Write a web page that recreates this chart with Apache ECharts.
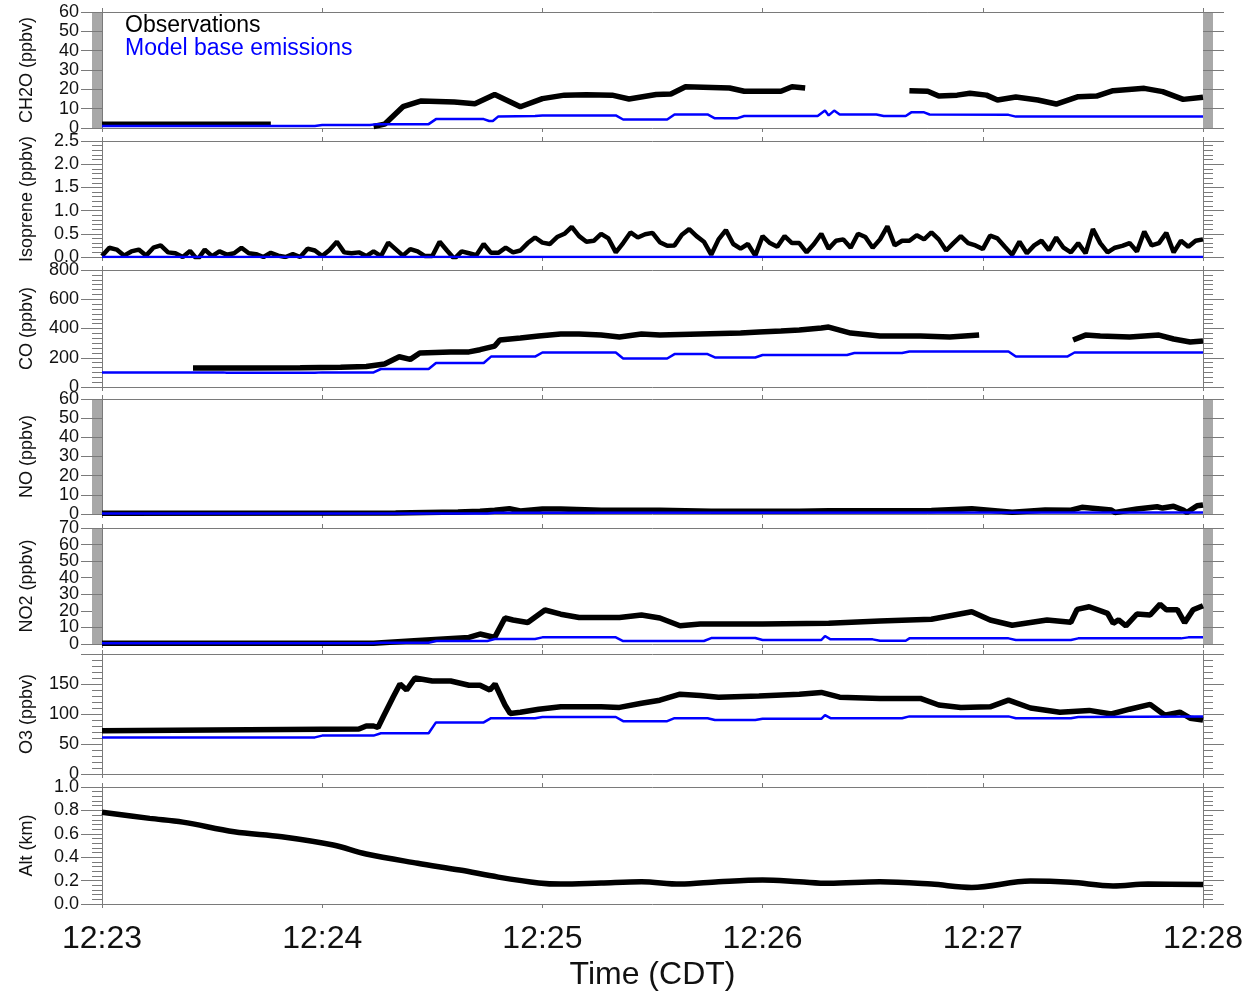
<!DOCTYPE html>
<html><head><meta charset="utf-8">
<script src="https://cdn.jsdelivr.net/npm/echarts@6/dist/echarts.min.js"></script>
<style>html,body{margin:0;padding:0;background:#fff}#c{width:1250px;height:992px}</style>
</head><body><div id="c"></div>
<script>
// time axis: seconds after 12:23:00
const tickLabels = ['12:23','12:24','12:25','12:26','12:27','12:28'];
const seriesNames = ['Observations','Model base emissions'];
const panelNames = ['CH2O (ppbv)','Isoprene (ppbv)','CO (ppbv)','NO (ppbv)','NO2 (ppbv)','O3 (ppbv)','Alt (km)'];

// CH2O (observation segments, model)
const ch2oObs = [
  [[0,2],[46,2]],
  [[74,0.8],[77,2],[82,11],[87,14],[96,13.4],[101.6,12.6],[107,17.3],[114,11],[120,15.2],[126,17],[132,17.2],[139,17],[143.6,15],[151,17.3],[155,17.6],[159,21.3],[171,20.7],[175,19],[185,19],[188,21.3],[191.6,20.7]],
  [[220,19.3],[225,19],[228,16.5],[233,17],[236.5,18],[241,17],[244,14.5],[249,16],[255,14.5],[260,12.4],[266,16.2],[271,16.5],[275.5,19.3],[284,20.5],[289,18.8],[294.6,14.8],[300,15.9]]
];
const ch2oModel = [[0,1.0],[58,1.0],[60,1.5],[73,1.5],[75,2.0],[89,2.0],[91,4.6],[104,4.6],[105.5,3.6],[106.5,3.6],[108,6.0],[118,6.2],[120,6.5],[140,6.5],[142,4.4],[154,4.4],[156,7.0],[165,7.0],[167,5.0],[173,5.0],[175,6.2],[195,6.2],[197,9],[198,6.5],[199.5,9],[201,7],[211,7],[213,6.2],[219,6.2],[220.5,8.1],[224,8.1],[225.5,7],[247,6.8],[249,5.9],[300,5.9]];

// Isoprene observations every 2 s from 12:23:00
const isopreneStep = 2;
const isopreneObs = [
  0.02,0.2,0.16,0.03,0.12,0.16,0.03,0.2,0.25,0.1,0.08,0.0,0.13,-0.06,0.16,0.02,0.12,0.05,0.08,0.2,
  0.08,0.06,0.0,0.09,0.03,0.0,0.06,0.0,0.18,0.14,0.02,0.15,0.33,0.1,0.08,0.1,0.02,0.12,
  0.02,0.31,0.17,0.03,0.17,0.12,0.02,0.02,0.33,0.14,-0.04,0.12,0.08,0.04,0.28,0.09,0.09,0.2,0.1,0.14,
  0.3,0.42,0.31,0.28,0.43,0.5,0.65,0.45,0.33,0.35,0.5,0.4,0.1,0.3,0.53,0.42,0.49,0.52,0.32,0.24,
  0.25,0.48,0.6,0.45,0.33,0.05,0.38,0.58,0.28,0.18,0.28,0.03,0.45,0.3,0.22,0.45,0.3,0.3,0.1,0.28,
  0.5,0.18,0.35,0.38,0.2,0.5,0.43,0.2,0.38,0.66,0.25,0.35,0.35,0.47,0.38,0.53,0.38,0.14,0.3,0.45,
  0.3,0.25,0.17,0.46,0.4,0.22,0.05,0.33,0.08,0.25,0.35,0.15,0.42,0.2,0.1,0.3,0.08,0.6,0.3,0.1,
  0.2,0.24,0.3,0.12,0.55,0.25,0.3,0.52,0.1,0.35,0.22,0.35,0.38
];
const isopreneModel = [[0,0],[300,0]];

// CO
const coObs = [
  [[24.8,130],[40,130],[54,132],[65,135],[72,140],[77,157],[81,207],[84,189],[86.6,232],[95,240],[100,240],[103,255],[107,280],[108.4,321],[114,335],[119,349],[125,362],[130,362],[136,355],[141,342],[147,362],[152,355],[163,362],[174,369],[179,376],[185,383],[190,390],[196,403],[198,410],[204,369],[212,349],[223,349],[231,342],[239,355]],
  [[264.6,321],[268,355],[272,349],[280,342],[288,355],[292,328],[296.5,308],[300,315]]
];
const coModel = [[0,100],[33,100],[34,98],[58,98],[60,100],[74,100],[76,123],[89,123],[91,164],[104,164],[106,208],[118,208],[120,236],[140,236],[142,195],[154,195],[156,225],[165,225],[167,202],[178,202],[180,219],[203,219],[205,232],[218,232],[220,243],[247,243],[249,208],[263,208],[265,236],[300,236]];

// NO
const noObs = [
  [[0,0.4],[80,0.5],[97,1.0],[103,1.5],[107,2.0],[111,2.8],[114,1.6],[120,2.6],[125,2.6],[136,2.0],[152,2.0],[166,1.5],[190,1.5],[198,1.7],[226,1.8],[237,2.8],[248,0.9],[257,2.1],[264,2.0],[267,3.5],[275,2.1],[276,0.8],[282,2.6],[287.5,3.8],[289,3.1],[292,4.0],[294.6,2.1],[295.6,0.8],[298.4,4.3],[300,4.7]]
];
const noModel = [[0,0.2],[105,0.3],[107,0.6],[300,0.8]];

// NO2
const no2Obs = [
  [[0,0.5],[74,0.5],[85,2],[100,4],[103,6],[105,5],[107,4],[109.8,15.7],[112,14.5],[116,13],[120.7,20.5],[125,18],[130,16],[141,16],[147,17.5],[152,15.7],[157.5,11],[163,12],[180,12],[198,12.5],[212,13.9],[226,14.9],[237,19.5],[242,14.5],[248,11.3],[257.5,14.5],[264,13.1],[265.7,20.9],[269,22.5],[274,18.5],[275.5,12.5],[277,14.5],[279,10.9],[282,18.1],[285.6,17.5],[288.3,24],[290,20.7],[293,20.7],[295,12.9],[297.3,20.7],[300,23.1]]
];
const no2Model = [[0,0.5],[74,0.5],[76,0.8],[89,0.8],[91,1.8],[105,1.8],[107,3],[118,3],[120,4],[140,4],[142,1.8],[164,1.8],[166,3.6],[178,3.6],[180,2.4],[196,2.4],[197,4.8],[198.5,2.8],[210,2.8],[212,2.0],[219,2.0],[220,3.4],[247,3.4],[249,2.4],[264,2.4],[266,3.4],[294,3.4],[296,4],[300,4]];

// O3
const o3Obs = [
  [[0,72],[70,75],[72,80],[74,80],[75.2,77.5],[76.6,95],[79.3,128],[81.2,150],[83,140],[85.3,160],[90,155],[95,155],[100,148],[103,148],[105.7,140],[107.1,150],[109.8,115],[111.2,101],[114,103],[119,108],[125,112],[136,112],[141,111],[147,118],[152,123],[157.5,133],[163,131],[168,128],[179,130],[190,133],[196,136],[201,128],[212,126],[223,126],[228,115],[234,111],[242,112],[247,123],[253,110],[261,103],[269,106],[275,100],[280,108],[285.6,116],[289.6,98],[293.7,103],[296.5,93],[300,90]]
];
const o3Model = [[0,61],[58,61],[60,64],[74,64],[76,68],[89,68],[91,86],[104,86],[106,93],[118,93],[120,95],[140,95],[142,88],[154,88],[156,93],[165,93],[167,90],[178,90],[180,92],[196,92],[197,98],[198.5,93],[218,93],[220,96],[247,96],[249,93],[264,93],[266,95],[300,96]];

// Altitude
const altObs = [
  [[0,0.784],[13,0.732],[22,0.70],[36,0.618],[49,0.575],[63,0.504],[72,0.427],[86,0.348],[97.5,0.29],[108,0.23],[119,0.18],[125,0.17],[136,0.18],[147,0.19],[157.5,0.17],[168,0.19],[180,0.205],[190,0.19],[198,0.177],[212,0.19],[226,0.17],[237,0.142],[253,0.196],[264,0.185],[275.5,0.154],[285,0.17],[300,0.167]]
];

// y-axis ranges / ticks
const yMin = [0,0,0,0,0,0,0];
const yMax = [60,2.5,800,60,70,200,1.0];
const yInterval = [10,0.5,200,10,10,50,0.2];
const yMinorSplit = [20,5,6,20,20,5,5];
const yDecimals = [0,1,0,0,0,0,1];
const yShowMaxLabel = [true,true,true,true,true,false,true];

const isoSeries = isopreneObs.map((v,i)=>[i*isopreneStep, v]);
const obsSets = [ch2oObs,[isoSeries],coObs,noObs,no2Obs,o3Obs,altObs];
const modelSets = [ch2oModel,isopreneModel,coModel,noModel,no2Model,o3Model,null];

const layout = [
  {top:12,h:116},{top:141,h:116},{top:270,h:117},{top:399,h:115},{top:528,h:116},{top:654,h:120},{top:787,h:117}
];
const FONT = '"Liberation Sans", Arial, Helvetica, sans-serif';
const axisColor = '#7a7a7a';
const grids=[], xAxes=[], yAxes=[], series=[];
const labelStyle = {fontSize:18,color:'#111',fontFamily:FONT,margin:23};

panelNames.forEach((name,i)=>{
  const L = layout[i];
  const last = i === panelNames.length-1;
  const dense = yMinorSplit[i] >= 20;
  grids.push({left:102,right:47,top:L.top,height:L.h,show:false});
  const xBase = {type:'value',gridIndex:i,min:0,max:300,interval:60,
    axisLine:{onZero:false,lineStyle:{color:axisColor,width:1}},
    axisTick:{length:4,lineStyle:{color:axisColor}},
    splitLine:{show:false}};
  xAxes.push(Object.assign({},xBase,{position:'bottom',
    axisLabel:{show:last,fontSize:32,color:'#111',fontFamily:FONT,margin:19,
      showMinLabel:true,showMaxLabel:true,
      formatter:v=>tickLabels[Math.round(v/60)]},
    name:last?'Time (CDT)':'',nameLocation:'middle',nameGap:55,
    nameTextStyle:{fontSize:32,color:'#111',fontFamily:FONT}}));
  xAxes.push(Object.assign({},xBase,{position:'top',axisLabel:{show:false}}));
  const fmt = v=>Number(v).toFixed(yDecimals[i]);
  const yBase = {type:'value',gridIndex:i,min:yMin[i],max:yMax[i],interval:yInterval[i],
    axisLine:{show:true,onZero:false,lineStyle:{color:axisColor,width:1}},
    axisTick:{show:true,length:21,lineStyle:{color:axisColor}},
    minorTick:{show:true,splitNumber:yMinorSplit[i],length:10,
      lineStyle:{color:dense?'#a8a8a8':axisColor,width:1}},
    splitLine:{show:false}};
  // main left axis: inner labels only
  yAxes.push(Object.assign({},yBase,{position:'left',
    name:name,nameLocation:'middle',nameGap:66,
    nameTextStyle:{fontSize:18,color:'#111',fontFamily:FONT},
    axisLabel:Object.assign({},labelStyle,{showMinLabel:false,showMaxLabel:false,formatter:fmt})}));
  // right mirror axis
  yAxes.push(Object.assign({},yBase,{position:'right',axisLabel:{show:false}}));
  // end labels (min / max) on an overlay axis so they may overlap neighbours like the original
  yAxes.push({type:'value',gridIndex:i,min:yMin[i],max:yMax[i],interval:yInterval[i],position:'left',
    axisLine:{show:false,onZero:false},axisTick:{show:false},minorTick:{show:false},splitLine:{show:false},
    axisLabel:Object.assign({},labelStyle,{showMinLabel:true,showMaxLabel:yShowMaxLabel[i],
      formatter:v=>(v===yMin[i]||v===yMax[i])?fmt(v):''})});

  obsSets[i].forEach(seg=>{
    series.push({name:seriesNames[0],type:'line',xAxisIndex:2*i,yAxisIndex:3*i,
      data:seg,symbol:'none',showSymbol:false,smooth:last?0.35:false,
      lineStyle:{color:'#000',width:i===1?4.5:5.5},itemStyle:{color:'#000'},
      z:3,silent:true});
  });
  if (modelSets[i]) {
    series.push({name:seriesNames[1],type:'line',xAxisIndex:2*i,yAxisIndex:3*i,
      data:modelSets[i],symbol:'none',showSymbol:false,
      lineStyle:{color:'#0000ff',width:2.5},itemStyle:{color:'#0000ff'},
      z:4,silent:true});
  }
});

const chart = echarts.init(document.getElementById('c'),null,{renderer:'canvas'});
chart.setOption({
  animation:false,
  backgroundColor:'#fff',
  textStyle:{fontFamily:FONT},
  legend:{
    data:[{name:seriesNames[0],textStyle:{color:'#000'}},{name:seriesNames[1],textStyle:{color:'#0000ff'}}],
    orient:'vertical',left:115,top:9,itemWidth:0,itemHeight:0,itemGap:0,
    icon:'rect',selectedMode:false,
    textStyle:{fontSize:23,lineHeight:20,fontFamily:FONT,padding:0}
  },
  grid:grids, xAxis:xAxes, yAxis:yAxes, series:series
});
</script>
</body></html>
